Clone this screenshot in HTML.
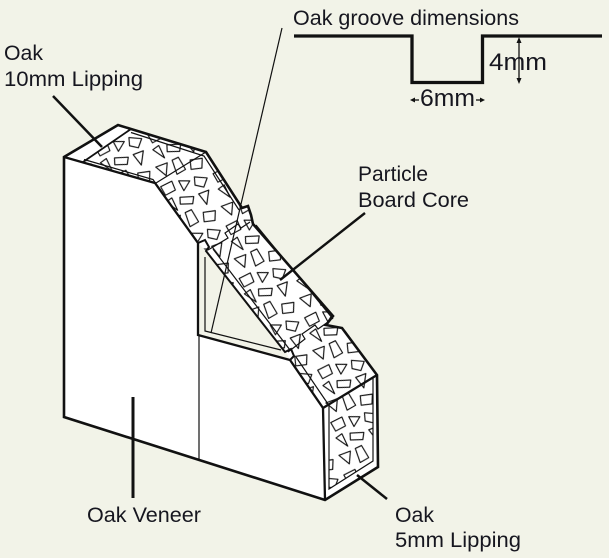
<!DOCTYPE html>
<html><head><meta charset="utf-8"><style>
html,body{margin:0;padding:0;background:#f2f3e8;}
svg{display:block;}
text{font-family:"Liberation Sans",Arial,sans-serif;fill:#16161f;}
</style></head><body>
<svg width="609" height="558" viewBox="0 0 609 558" xmlns="http://www.w3.org/2000/svg">
<defs>
<pattern id="pb" width="40" height="40" patternUnits="userSpaceOnUse" patternTransform="rotate(-14) scale(1.35)">
<rect width="40" height="40" fill="#fff"/>
<g fill="#fff" stroke="#111" stroke-width="0.85" stroke-linejoin="round">
<polygon points="2,3 11,1 12,8 4,10"/>
<polygon points="16,2 24,4 18,10"/>
<polygon points="28,2 37,5 33,11 27,8"/>
<polygon points="3,15 8,13 10,23"/>
<polygon points="14,14 24,16 22,21 13,19"/>
<polygon points="28,15 36,14 32,24"/>
<polygon points="2,28 11,27 8,36"/>
<polygon points="15,26 20,25 23,35 16,37"/>
<polygon points="28,29 37,30 35,37 27,36"/>
</g>
</pattern>
</defs>
<rect width="609" height="558" fill="#f2f3e8"/>

<!-- front face -->
<polygon points="64,157 155,183 198,243 198,335 290,360 323,408 325,500 64,417" fill="#fff"/>
<!-- strip / top face with particle board -->
<polygon points="64,157 118,125 206,152 242,208 248,206 251,215 253,224 333,316 326,325 342,328 377,375 323,408 290,360 286,352 207,252 198,243 155,183" fill="url(#pb)"/>
<!-- 10mm lipping -->
<polygon points="64,157 118,125 131,129 83,162" fill="#fff"/>
<!-- end face -->
<polygon points="323,408 377,375 378,467 325,500" fill="#fff"/>
<polygon points="329,405 373,378 373,461 329,489" fill="url(#pb)"/>

<g fill="none" stroke="#111" stroke-linejoin="miter" stroke-linecap="butt">
<path d="M64,157 L118,125 L206,152 L242,208 L248,206 L251,215 L253,224 L333,316 L326,325 L342,328 L377,375 L378,467 L325,500 L64,417 Z" stroke-width="2.6"/>
<path d="M64,157 L155,183 L198,243 L198,335 L290,360 L323,408 L325,500" stroke-width="2.3"/>
<path d="M323,408 L377,375" stroke-width="2.3"/>
<path d="M198,243 L205,240 L209,247 L206,251 L285,352 L291,349 L294,356 L290,360" stroke-width="2"/>
<path d="M83,162 L131,129" stroke-width="1.8"/>
</g>
<g fill="none" stroke="#111" stroke-width="1.2">
<path d="M206,152 L156,183"/>
<path d="M250,222 L241,228 L238,224 L225,233 L228,238 L208,250"/>
<path d="M328,322 L318,329 L315,325 L302,334 L305,339 L288,352"/>
<path d="M205,257 L205,331 L281,350"/>
<path d="M213,249 L290,350"/>
<path d="M296,357 L328,404"/>
<path d="M84,159.5 L153,179.5 L195,239"/>
<path d="M131,132.5 L204,156 L239,210"/>
<path d="M256,225 L333,319"/>
<path d="M345,331 L373,370"/>
<path d="M329,405 L329,489 L373,461 L373,378"/>
<path d="M199,335 L199,460"/>
</g>

<g stroke="#111" fill="none">
<line x1="53" y1="96" x2="102" y2="147" stroke-width="2.5"/>
<line x1="282" y1="28" x2="211" y2="333" stroke-width="1.2"/>
<line x1="365" y1="213" x2="280" y2="280" stroke-width="2.4"/>
<line x1="133" y1="397" x2="133" y2="498" stroke-width="3"/>
<line x1="357" y1="475" x2="387" y2="499" stroke-width="2.5"/>
<path d="M294,36 H412 V82.5 H482.5 V36 H602" stroke-width="3.3"/>
<line x1="519" y1="41" x2="519" y2="80" stroke-width="1.3"/>
<line x1="414" y1="100" x2="419" y2="100" stroke-width="1.3"/>
<line x1="476" y1="100" x2="481" y2="100" stroke-width="1.3"/>
</g>
<g fill="#111">
<polygon points="519,37 516.5,43 521.5,43"/>
<polygon points="519,84 516.5,78 521.5,78"/>
<polygon points="410,100 415,97.5 415,102.5"/>
<polygon points="485,100 480,97.5 480,102.5"/>
</g>

<text x="4" y="60" font-size="21" textLength="39" lengthAdjust="spacingAndGlyphs">Oak</text>
<text x="4" y="86" font-size="21" textLength="139" lengthAdjust="spacingAndGlyphs">10mm Lipping</text>
<text x="293" y="25" font-size="21" textLength="226" lengthAdjust="spacingAndGlyphs">Oak groove dimensions</text>
<text x="489" y="70" font-size="24" textLength="58" lengthAdjust="spacingAndGlyphs">4mm</text>
<text x="420" y="106" font-size="24" textLength="55" lengthAdjust="spacingAndGlyphs">6mm</text>
<text x="358" y="181" font-size="21" textLength="70" lengthAdjust="spacingAndGlyphs">Particle</text>
<text x="358" y="207" font-size="21" textLength="111" lengthAdjust="spacingAndGlyphs">Board Core</text>
<text x="87" y="522" font-size="21" textLength="114" lengthAdjust="spacingAndGlyphs">Oak Veneer</text>
<text x="395" y="522" font-size="21" textLength="39" lengthAdjust="spacingAndGlyphs">Oak</text>
<text x="395" y="547" font-size="21" textLength="126" lengthAdjust="spacingAndGlyphs">5mm Lipping</text>
</svg>
</body></html>
